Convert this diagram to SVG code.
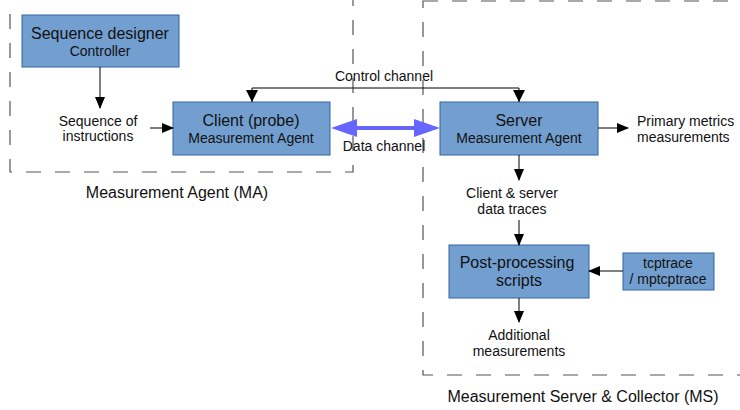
<svg xmlns="http://www.w3.org/2000/svg" width="740" height="410" viewBox="0 0 740 410">
<style>
text{font-family:"Liberation Sans",Arial,sans-serif;fill:#111;text-anchor:middle}
.t15{font-size:16px}.t13{font-size:14px}
.box{fill:#729fcf;stroke:#3465a4;stroke-width:1}
.grp{fill:none;stroke:#555;stroke-width:1.2;stroke-dasharray:15 14}
.ln{fill:none;stroke:#000;stroke-width:1}
</style>
<defs>
<marker id="ah" markerWidth="12" markerHeight="10" refX="11" refY="5" orient="auto" markerUnits="userSpaceOnUse"><path d="M0,0 L12,5 L0,10 Z" fill="#000"/></marker>
</defs>
<g id="ma-group"><rect class="grp" x="10" y="-14" width="343" height="186"/><text class="t15" x="177" y="198">Measurement Agent (MA)</text></g>
<g id="ms-group"><rect class="grp" x="423" y="1" width="340" height="374"/><text class="t15" x="583" y="402">Measurement Server &amp; Collector (MS)</text></g>
<g id="seq-designer"><rect class="box" x="22" y="15" width="157" height="52"/><text class="t15" x="100" y="39">Sequence designer</text><text class="t13" x="100" y="56">Controller</text></g>
<g id="client"><rect class="box" x="173" y="102" width="157" height="53"/><text class="t15" x="251" y="126">Client (probe)</text><text class="t13" x="251" y="143">Measurement Agent</text></g>
<g id="server"><rect class="box" x="440" y="102" width="158" height="53"/><text class="t15" x="519" y="126">Server</text><text class="t13" x="519" y="143">Measurement Agent</text></g>
<g id="postproc"><rect class="box" x="449" y="245" width="140" height="53"/><text class="t15" x="517" y="268">Post-processing</text><text class="t15" x="519" y="286">scripts</text></g>
<g id="tcptrace"><rect class="box" x="623" y="253" width="91" height="37"/><text class="t13" x="668" y="268">tcptrace</text><text class="t13" x="668" y="284">/ mptcptrace</text></g>
<g id="labels">
<text class="t13" x="98" y="126">Sequence of</text><text class="t13" x="98" y="141">instructions</text>
<text class="t13" x="384" y="81">Control channel</text>
<text class="t13" x="384" y="151">Data channel</text>
<text class="t13" x="637" y="126" style="text-anchor:start">Primary metrics</text><text class="t13" x="637" y="142" style="text-anchor:start">measurements</text>
<text class="t13" x="512" y="198">Client &amp; server</text><text class="t13" x="512" y="214">data traces</text>
<text class="t13" x="519" y="340">Additional</text><text class="t13" x="519" y="356">measurements</text>
</g>
<g id="connectors">
<line class="ln" x1="100" y1="67" x2="100" y2="108" marker-end="url(#ah)"/>
<line class="ln" x1="150" y1="128" x2="173" y2="128" marker-end="url(#ah)"/>
<path class="ln" d="M252,102 L252,88 L519,88 L519,102"/>
<path d="M246,90 L258,90 L252,102 Z" fill="#000"/>
<path d="M513,90 L525,90 L519,102 Z" fill="#000"/>
<line x1="350" y1="128" x2="420" y2="128" stroke="#6666ff" stroke-width="4"/>
<path d="M331,128 L357,119 L357,137 Z" fill="#6666ff"/>
<path d="M440,128 L414,119 L414,137 Z" fill="#6666ff"/>
<line class="ln" x1="598" y1="128" x2="628" y2="128" marker-end="url(#ah)"/>
<line class="ln" x1="519" y1="155" x2="519" y2="180" marker-end="url(#ah)"/>
<line class="ln" x1="519" y1="220" x2="519" y2="245" marker-end="url(#ah)"/>
<line class="ln" x1="519" y1="298" x2="519" y2="322" marker-end="url(#ah)"/>
<line class="ln" x1="623" y1="271" x2="589" y2="271" marker-end="url(#ah)"/>
</g>
</svg>
